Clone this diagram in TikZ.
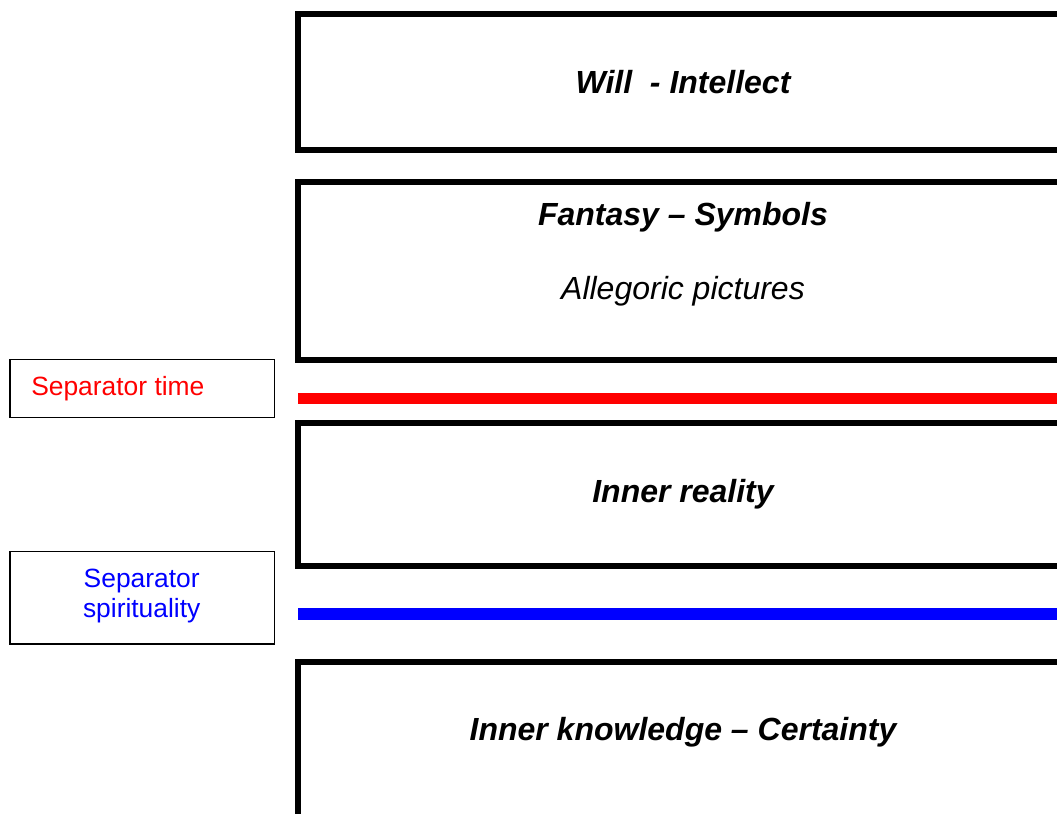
\documentclass[tikz,border=0pt]{standalone}
\usepackage{fontspec}
\setmainfont{Liberation Sans}
\begin{document}
\begin{tikzpicture}[x=0.75pt,y=-0.75pt,
  layer/.style={draw=black,line width=4.5pt},
  heading/.style={font=\fontsize{24}{27.6}\selectfont\bfseries\itshape,anchor=base,inner sep=0pt},
  subheading/.style={font=\fontsize{24}{27.6}\selectfont\itshape,anchor=base,inner sep=0pt},
  tag/.style={draw=black,line width=1.1pt},
  tagtext/.style={font=\fontsize{19.8}{22.8}\selectfont,inner sep=0pt}]
\useasboundingbox (0,0) rectangle (1057,814);
\clip (0,0) rectangle (1057,814);

% stacked layers
\draw[layer] (298,14) rectangle (1068,150);
\draw[layer] (298,182) rectangle (1068,359.5);
\draw[layer] (298,422.5) rectangle (1068,566);
\draw[layer] (298,662) rectangle (1068,900);

% separators
\coordinate (redL) at (298,398);
\coordinate (redR) at (1068,398);
\coordinate (blueL) at (298,614);
\coordinate (blueR) at (1068,614);
\draw[red,line width=8.25pt] (redL) -- (redR);
\draw[blue,line width=9pt] (blueL) -- (blueR);

% layer titles
\node[heading] (will) at (683,93) {Will\ \ - Intellect};
\node[heading] (fantasy) at (683,225) {Fantasy – Symbols};
\node[subheading] (allegoric) at (683,299.5) {Allegoric pictures};
\node[heading] (reality) at (683,502) {Inner reality};
\node[heading] (knowledge) at (683,740.5) {Inner knowledge – Certainty};

% separator tags
\draw[tag] (9.8,359.5) rectangle (274.5,417.5);
\node[tagtext,text=red,anchor=base west] (timetag) at (31,395) {Separator time};
\draw[tag] (9.8,551.5) rectangle (274.5,644);
\node[tagtext,text=blue,align=center,anchor=base] (spirittag) at (141.7,617.5) {Separator\\spirituality};
\end{tikzpicture}
\end{document}
